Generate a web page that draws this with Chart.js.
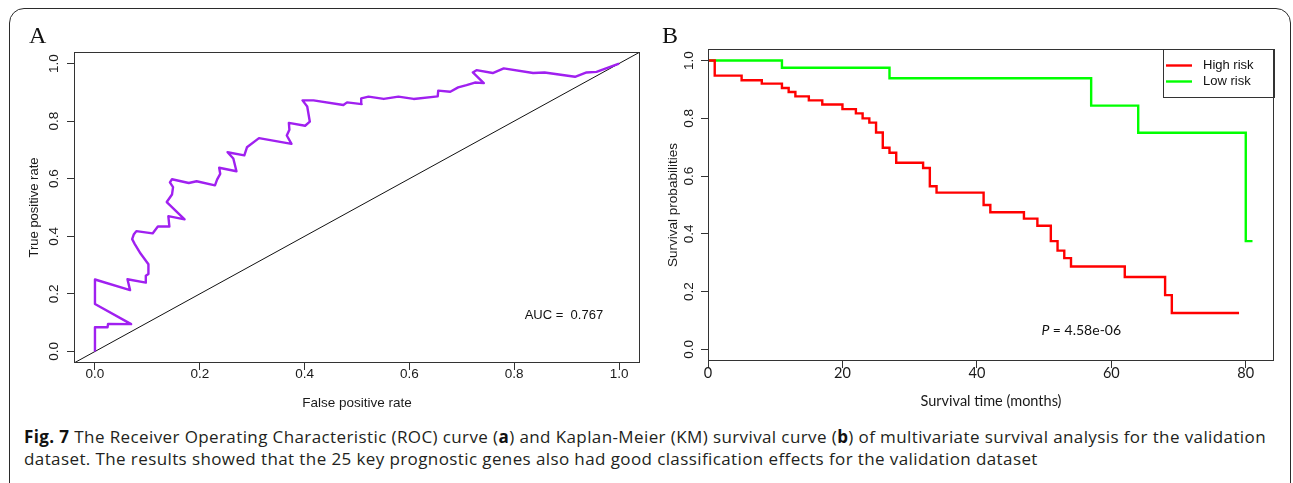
<!DOCTYPE html>
<html>
<head>
<meta charset="utf-8">
<script src="https://cdn.jsdelivr.net/npm/chart.js@4.4.1/dist/chart.umd.min.js"></script>
<style>
  html, body { margin: 0; padding: 0; background: #fff; }
  body { width: 1293px; height: 483px; position: relative; overflow: hidden; }
  #frame { position: absolute; left: 9px; top: 8px; width: 1282px; height: 490px; border: 1.5px solid #2b2b2b; border-radius: 15px; box-sizing: border-box; }
  canvas { position: absolute; top: 0; }
  #roc { left: 0; }
  #km { left: 650px; }
  .letter { position: absolute; top: 23px; font-family: "Liberation Serif", "DejaVu Serif", serif; font-size: 24px; line-height: 24px; color: #111; }
  #caption { position: absolute; left: 24px; top: 426px; font-family: "Open Sans", sans-serif; font-size: 17px; line-height: 22px; color: #231f20; white-space: nowrap; }
  #cap1 { display: inline-block; }
  #caption b { color: #111; }
</style>
</head>
<body>
<div id="frame"></div>
<canvas id="roc" width="645" height="420"></canvas>
<canvas id="km" width="643" height="420"></canvas>
<div class="letter" style="left:29px">A</div>
<div class="letter" style="left:662px">B</div>
<div id="caption"><span id="cap1"><b>Fig. 7</b> The Receiver Operating Characteristic (ROC) curve (<b>a</b>) and Kaplan-Meier (KM) survival curve (<b>b</b>) of multivariate survival analysis for the validation</span><br>dataset. The results showed that the 25 key prognostic genes also had good classification effects for the validation dataset</div>
<script>
// ROC curve (panel A)
const rocFpr = [0, 0, 0.024, 0.025, 0.069, 0, 0, 0.067, 0.062, 0.097, 0.097, 0.102, 0.102, 0.087, 0.076, 0.071,
  0.074, 0.079, 0.110, 0.120, 0.142, 0.140, 0.171, 0.137, 0.147, 0.149, 0.143, 0.147, 0.179, 0.194, 0.229, 0.233,
  0.239, 0.237, 0.270, 0.264, 0.253, 0.285, 0.290, 0.313, 0.375, 0.366, 0.371, 0.370, 0.401, 0.410, 0.405, 0.396,
  0.417, 0.474, 0.481, 0.509, 0.508, 0.522, 0.551, 0.579, 0.608, 0.654, 0.655, 0.678, 0.693, 0.709, 0.725, 0.742,
  0.721, 0.728, 0.759, 0.780, 0.836, 0.858, 0.916, 0.938, 0.957, 1.0];
const rocTpr = [0, 0.084, 0.084, 0.096, 0.095, 0.165, 0.250, 0.213, 0.251, 0.239, 0.263, 0.269, 0.303, 0.340, 0.373, 0.390,
  0.406, 0.418, 0.410, 0.434, 0.434, 0.470, 0.459, 0.519, 0.545, 0.571, 0.587, 0.598, 0.585, 0.591, 0.577, 0.597,
  0.617, 0.638, 0.626, 0.670, 0.692, 0.681, 0.709, 0.741, 0.721, 0.750, 0.770, 0.794, 0.784, 0.798, 0.851, 0.872,
  0.872, 0.856, 0.865, 0.859, 0.879, 0.885, 0.877, 0.885, 0.877, 0.886, 0.906, 0.902, 0.917, 0.925, 0.934, 0.932,
  0.969, 0.977, 0.967, 0.983, 0.967, 0.969, 0.954, 0.969, 0.971, 1.0];
const rocRange = [-0.04, 1.04];
const rocTicks = [0, 0.2, 0.4, 0.6, 0.8, 1.0];
const aucText = 'AUC =  0.767';

// Kaplan-Meier curves (panel B)
const highRiskTime = [0, 1, 5, 8, 11, 12, 13, 15, 17, 20, 22, 23, 24, 25, 26, 27, 28, 32, 33, 34, 41, 42, 47, 49,
  51, 52, 53, 54, 62, 68, 69, 79];
const highRiskSurv = [1, 0.948, 0.932, 0.920, 0.905, 0.891, 0.876, 0.862, 0.848, 0.832, 0.817, 0.800, 0.785, 0.751,
  0.698, 0.681, 0.646, 0.628, 0.565, 0.543, 0.500, 0.475, 0.453, 0.428, 0.375, 0.342, 0.316, 0.287, 0.251, 0.188,
  0.126, 0.126];
const lowRiskTime = [0, 11, 27, 57, 64, 80, 81];
const lowRiskSurv = [1, 0.975, 0.939, 0.844, 0.750, 0.375, 0.375];
const kmTimeTicks = [0, 20, 40, 60, 80];
const kmSurvTicks = [0, 0.2, 0.4, 0.6, 0.8, 1.0];
const pValue = '4.58e-06';

const ARIAL = '"Liberation Sans", Arial, sans-serif';
const CALIBRI = 'Lato, "Open Sans", sans-serif';
const INK = '#333';

const toPoints = (xs, ys) => xs.map((x, i) => ({ x, y: ys[i] }));

// box around the plot region, like R's bty = "o"
const boxPlugin = {
  id: 'box',
  afterDatasetsDraw(chart) {
    const { ctx, chartArea: a } = chart;
    ctx.save();
    ctx.strokeStyle = INK;
    ctx.lineWidth = 1;
    ctx.strokeRect(Math.round(a.left) + 0.5, Math.round(a.top) + 0.5,
      Math.round(a.right - a.left) - 1, Math.round(a.bottom - a.top) - 1);
    ctx.restore();
  }
};

function axis(range, ticks, opts) {
  return {
    type: 'linear',
    min: range[0],
    max: range[1],
    afterBuildTicks: s => { s.ticks = ticks.map(v => ({ value: v })); },
    afterFit: opts.fit,
    border: { display: false },
    grid: { drawOnChartArea: false, drawTicks: true, tickLength: 7, color: INK, lineWidth: 1 },
    ticks: {
      autoSkip: false,
      color: '#1a1a1a',
      padding: opts.padding,
      minRotation: opts.rotation || 0,
      maxRotation: opts.rotation || 0,
      crossAlign: 'center',
      font: { family: opts.tickFont || ARIAL, size: opts.tickSize || 13.5 },
      callback: opts.format
    },
    title: {
      display: true,
      text: opts.title,
      color: '#1a1a1a',
      font: { family: opts.titleFont || ARIAL, size: opts.titleSize || 13.5 },
      padding: opts.titlePad
    }
  };
}

const aucPlugin = {
  id: 'auc',
  afterDraw(chart) {
    const { ctx, scales } = chart;
    ctx.save();
    ctx.font = '13px ' + ARIAL;
    ctx.fillStyle = '#111';
    ctx.textBaseline = 'middle';
    ctx.fillText(aucText, scales.x.getPixelForValue(0.82), scales.y.getPixelForValue(0.126));
    ctx.restore();
  }
};

new Chart(document.getElementById('roc'), {
  type: 'scatter',
  data: {
    datasets: [
      {
        label: 'ROC',
        data: toPoints(rocFpr, rocTpr),
        showLine: true,
        borderColor: '#A020F0',
        borderWidth: 2.4,
        borderJoinStyle: 'round',
        pointRadius: 0
      },
      {
        label: 'reference',
        data: toPoints(rocRange, rocRange),
        showLine: true,
        borderColor: '#111',
        borderWidth: 1,
        pointRadius: 0
      }
    ]
  },
  options: {
    responsive: false,
    animation: false,
    layout: { padding: { top: 52, right: 5, left: 0, bottom: 0 } },
    plugins: { legend: { display: false }, tooltip: { enabled: false } },
    scales: {
      x: axis(rocRange, rocTicks, {
        fit: s => { s.height = 57; }, padding: 4, format: v => v.toFixed(1),
        title: 'False positive rate', titlePad: { top: 0, bottom: 9 }
      }),
      y: axis(rocRange, rocTicks, {
        fit: s => { s.width = 74; }, padding: 3, rotation: 90, format: v => v.toFixed(1),
        title: 'True positive rate', titleSize: 13, titlePad: { top: 27, bottom: 0 }
      })
    }
  },
  plugins: [boxPlugin, aucPlugin]
});

const kmNotes = {
  id: 'kmNotes',
  afterDraw(chart) {
    const { ctx, chartArea: a, scales } = chart;
    ctx.save();
    // legend box in the top right corner
    const w = 111, h = 48;
    const x0 = a.right - w, y0 = a.top;
    ctx.strokeStyle = INK;
    ctx.lineWidth = 1;
    ctx.strokeRect(Math.round(x0) + 0.5, Math.round(y0) + 0.5, w, h);
    ctx.font = '13px ' + ARIAL;
    ctx.textBaseline = 'middle';
    chart.data.datasets.forEach((ds, i) => {
      const y = y0 + 16.5 + i * 16;
      ctx.strokeStyle = ds.borderColor;
      ctx.lineWidth = ds.borderWidth;
      ctx.beginPath();
      ctx.moveTo(x0 + 3, y);
      ctx.lineTo(x0 + 29, y);
      ctx.stroke();
      ctx.fillStyle = '#111';
      ctx.fillText(ds.label, x0 + 40, y);
    });
    // log-rank p value
    let px = scales.x.getPixelForValue(49.6);
    const py = scales.y.getPixelForValue(0.067);
    ctx.fillStyle = '#111';
    ctx.font = 'italic 14px ' + CALIBRI;
    ctx.fillText('P', px, py);
    px += ctx.measureText('P').width;
    ctx.font = '14px ' + CALIBRI;
    ctx.fillText(' = ' + pValue, px, py);
    ctx.restore();
  }
};

new Chart(document.getElementById('km'), {
  type: 'scatter',
  data: {
    datasets: [
      {
        label: 'High risk',
        data: toPoints(highRiskTime, highRiskSurv),
        showLine: true,
        stepped: 'before',
        borderColor: '#FF0000',
        borderWidth: 2.4,
        pointRadius: 0
      },
      {
        label: 'Low risk',
        data: toPoints(lowRiskTime, lowRiskSurv),
        showLine: true,
        stepped: 'before',
        borderColor: '#00FF00',
        borderWidth: 2.4,
        pointRadius: 0
      }
    ]
  },
  options: {
    responsive: false,
    animation: false,
    layout: { padding: { top: 49, right: 19, left: 0, bottom: 0 } },
    plugins: { legend: { display: false }, tooltip: { enabled: false } },
    scales: {
      x: axis([0, 84.2], kmTimeTicks, {
        fit: s => { s.height = 59; }, padding: 5, format: v => String(v),
        tickFont: CALIBRI, tickSize: 14.5,
        title: 'Survival time (months)', titleFont: CALIBRI, titleSize: 14.5, titlePad: { top: 0, bottom: 10 }
      }),
      y: axis([-0.04, 1.04], kmSurvTicks, {
        fit: s => { s.width = 58; }, padding: 2, rotation: 90, format: v => v.toFixed(1),
        title: 'Survival probabilities', titlePad: { top: 15, bottom: 0 }
      })
    }
  },
  plugins: [boxPlugin, kmNotes]
});

// stretch the first caption line to the width it has in the figure
const cap1 = document.getElementById('cap1');
const capWidth = cap1.getBoundingClientRect().width;
document.getElementById('caption').style.letterSpacing = ((1242 - capWidth) / cap1.textContent.length) + 'px';
</script>
</body>
</html>
